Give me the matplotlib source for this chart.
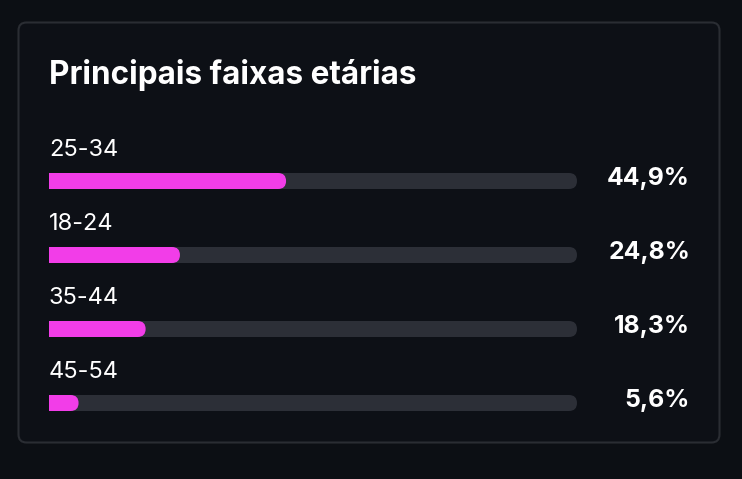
import matplotlib.pyplot as plt
from matplotlib.patches import FancyBboxPatch, Rectangle

# data
faixas = ["25-34", "18-24", "35-44", "45-54"]
percentuais = [44.9, 24.8, 18.3, 5.6]
rotulos = ["44,9%", "24,8%", "18,3%", "5,6%"]
titulo = "Principais faixas etárias"

bg = "#0c0f14"
card_bg = "#0d1016"
borda = "#2a2d33"
trilho = "#2c2f37"
rosa = "#f23de8"

plt.rcParams['font.family'] = ['Inter', 'DejaVu Sans']

W, H = 742, 479
fig = plt.figure(figsize=(W / 100, H / 100), dpi=100)
fig.patch.set_facecolor(bg)

# card in pixel space
ax_bg = fig.add_axes([0, 0, 1, 1])
ax_bg.set_xlim(0, W)
ax_bg.set_ylim(H, 0)
ax_bg.axis("off")
card = FancyBboxPatch((18.5, 22.5), 701, 420, boxstyle="round,pad=0,rounding_size=8",
                      facecolor=card_bg, edgecolor=borda, linewidth=1.5)
ax_bg.add_patch(card)

fig.text(49 / W, 1 - 75 / H, titulo, color="white", fontsize=22.7, fontweight="bold",
         va="center", ha="left")

# bars axes: x 0..100 over the track, y = row index
x0, x1 = 49, 577
row0, passo = 181, 74
y_top, y_bot = 130, 430
ax = fig.add_axes([x0 / W, 1 - y_bot / H, (x1 - x0) / W, (y_bot - y_top) / H])
ax.set_xlim(0, 100)
ax.set_ylim((y_bot - row0) / passo, (y_top - row0) / passo)
ax.axis("off")
ax.patch.set_alpha(0)

ux = 100 / (x1 - x0)   # x units per px
uy = 1 / passo         # y units per px
alt = 16 * uy
raio = 8 * ux
asp = uy / ux

def barra(larg, y, cor):
    p = FancyBboxPatch((0, y - alt / 2), larg, alt,
                       boxstyle=f"round,pad=0,rounding_size={raio}",
                       mutation_aspect=asp, facecolor=cor, edgecolor="none")
    ax.add_patch(p)
    ax.add_patch(Rectangle((0, y - alt / 2), min(raio, larg / 2), alt,
                           facecolor=cor, edgecolor="none"))

for i, (f, v, r) in enumerate(zip(faixas, percentuais, rotulos)):
    barra(100, i, trilho)
    barra(v, i, rosa)
    ax.text(0, i - 31 * uy, f, color="white", fontsize=17, va="center", ha="left")
    ax.text(100 + 113 * ux, i - 3 * uy, r, color="white", fontsize=17.8,
            fontweight="bold", va="center", ha="right", clip_on=False)

fig.savefig("out.png", dpi=100, facecolor=bg)
